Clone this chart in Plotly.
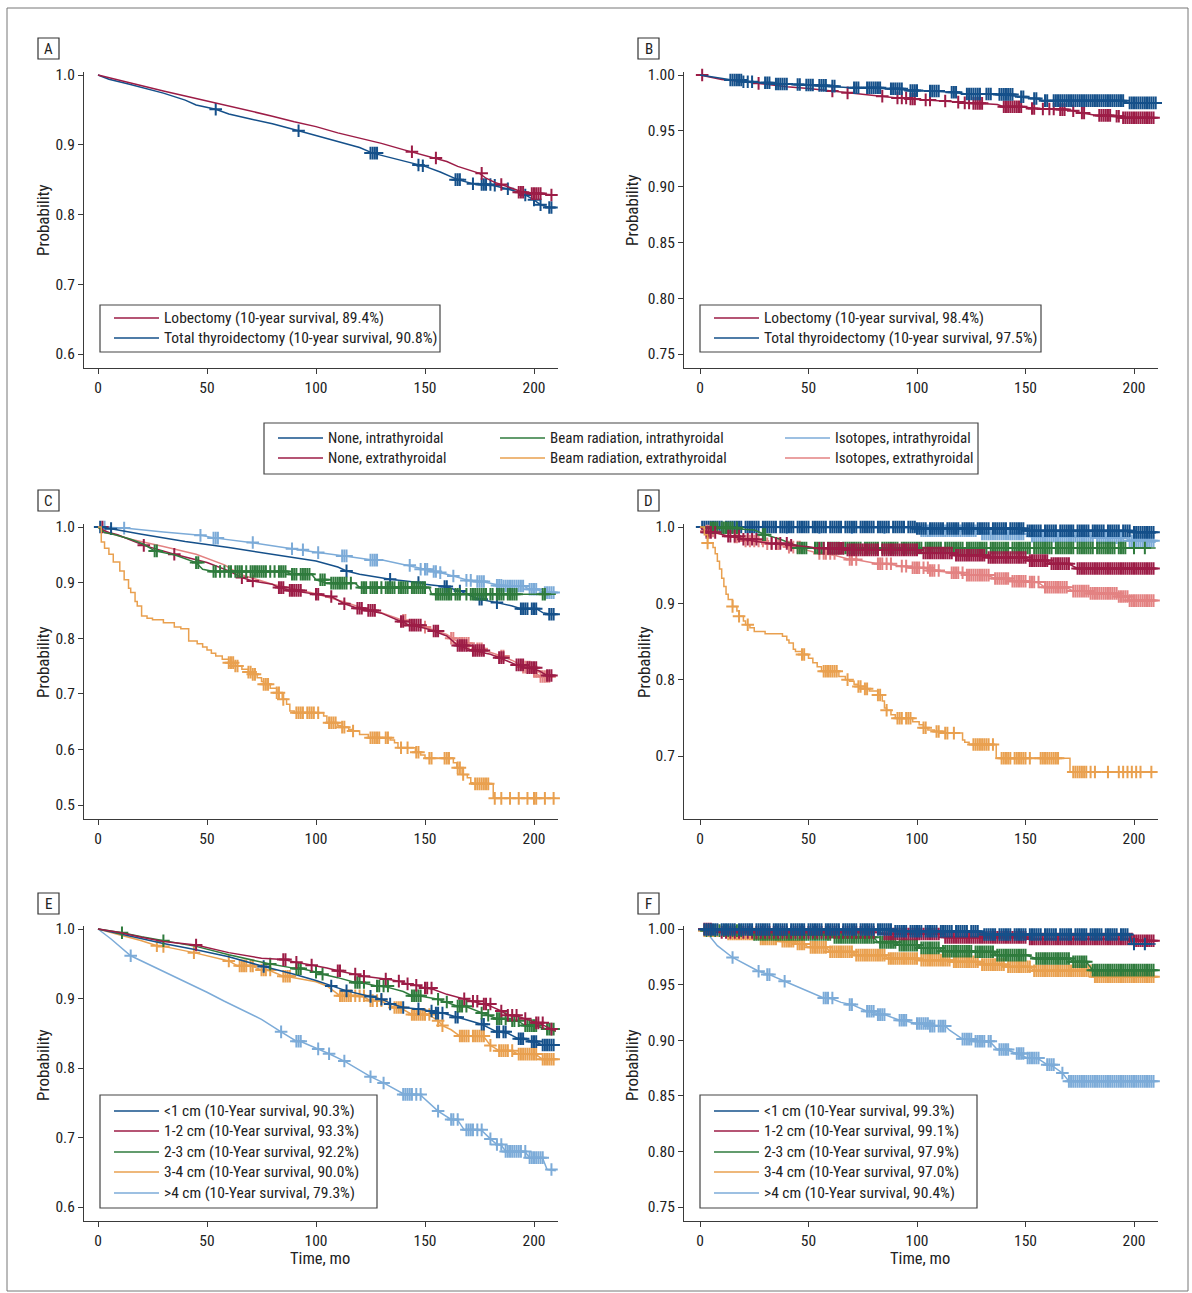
import plotly.graph_objects as go

W, H = 1192, 1293
FONT = "Liberation Sans Narrow, Arial Narrow, Roboto Condensed, Liberation Sans, Arial, sans-serif"

C_DBLUE = "#15508a"
C_RED = "#9c1c46"
C_GREEN = "#2f7b3d"
C_ORANGE = "#e9a04f"
C_LBLUE = "#7cabd8"
C_PINK = "#e38282"

X_TICKS = [0, 50, 100, 150, 200]

# ---------------- Panel A ----------------
A_Y_TICKS = [0.6, 0.7, 0.8, 0.9, 1.0]
A_NAMES = ["Lobectomy (10-year survival, 89.4%)", "Total thyroidectomy (10-year survival, 90.8%)"]
A_LOB_T = [0, 10, 20, 30, 40, 50, 60, 70, 80, 90, 100, 110, 120, 130, 140, 145, 150, 155, 160, 165, 170, 175, 178, 182, 186, 190, 194, 200, 210]
A_LOB_S = [1.0, 0.992, 0.984, 0.977, 0.970, 0.963, 0.956, 0.948, 0.941, 0.933, 0.926, 0.917, 0.910, 0.902, 0.893, 0.889, 0.885, 0.881, 0.876, 0.869, 0.864, 0.859, 0.852, 0.846, 0.842, 0.837, 0.833, 0.830, 0.828]
A_LOB_CENS = [(0.890, [144]), (0.881, [155]), (0.859, [176]), (0.843, [185]), (0.832, [193, 194, 195]),
              (0.830, [199, 200, 201, 202, 203]), (0.828, [208])]
A_TOT_T = [0, 5, 14, 22, 30, 40, 45, 54, 60, 70, 80, 92, 100, 110, 120, 126, 135, 140, 147, 150, 157, 165, 172, 176, 181, 186, 192, 196, 200, 203, 207, 210]
A_TOT_S = [1.0, 0.994, 0.987, 0.980, 0.974, 0.964, 0.957, 0.951, 0.944, 0.937, 0.930, 0.920, 0.913, 0.905, 0.896, 0.888, 0.881, 0.877, 0.871, 0.869, 0.861, 0.850, 0.844, 0.843, 0.842, 0.838, 0.833, 0.828, 0.821, 0.814, 0.810, 0.810]
A_TOT_CENS = [(0.951, [54]), (0.920, [92]), (0.888, [125, 126, 127, 128]), (0.871, [147]), (0.870, [149]),
              (0.850, [164, 165, 166]), (0.844, [172]), (0.843, [176, 177, 178, 180]), (0.842, [182]),
              (0.837, [188]), (0.828, [196]), (0.821, [200]), (0.814, [203]), (0.810, [207, 208])]

# ---------------- Panel B ----------------
B_Y_TICKS = [0.75, 0.80, 0.85, 0.90, 0.95, 1.00]
B_NAMES = ["Lobectomy (10-year survival, 98.4%)", "Total thyroidectomy (10-year survival, 97.5%)"]
B_LOB_T = [0, 10, 27, 40, 50, 61, 68, 84, 91, 97, 104, 113, 119, 124, 130, 137, 140, 150, 155, 163, 168, 172, 176, 183, 190, 195, 210]
B_LOB_S = [1.0, 0.996, 0.9925, 0.9895, 0.988, 0.9856, 0.984, 0.981, 0.9795, 0.9785, 0.9777, 0.9767, 0.9757, 0.975, 0.9746, 0.9735, 0.9716, 0.9712, 0.970, 0.9695, 0.969, 0.968, 0.966, 0.9638, 0.9632, 0.9617, 0.9617]
B_LOB_CENS = [(1.0, [1]), (0.9925, [27]), (0.9856, [61]), (0.984, [68]), (0.981, [84]), (0.9795, [91, 93, 95]),
              (0.9785, [97, 98, 99]), (0.9777, [104, 106]), (0.9767, [113]), (0.9757, [119]), (0.975, [122, 124]),
              (0.9746, [126, 127, 128, 129, 130]), (0.9716, [140, 141, 142, 143, 144, 145, 146, 147, 148]),
              (0.970, [153, 154]), (0.9695, [158, 161, 163]), (0.969, [166, 167, 168]), (0.968, [172]),
              (0.966, [176, 177]), (0.9638, [184, 185, 186, 187, 188, 189]), (0.963, [192, 193]),
              (0.9617, [195, 196, 197, 198, 199, 200, 201, 202, 203, 204, 205, 206, 207, 208, 209])]
B_TOT_T = [0, 14, 20, 30, 40, 45, 50, 55, 61, 70, 88, 97, 106, 116, 123, 138, 146, 150, 155, 158, 196, 197, 210]
B_TOT_S = [1.0, 0.9955, 0.994, 0.993, 0.992, 0.9915, 0.991, 0.9907, 0.990, 0.9886, 0.9877, 0.986, 0.9856, 0.9845, 0.983, 0.9826, 0.981, 0.9796, 0.979, 0.977, 0.977, 0.975, 0.975]
B_TOT_CENS = [(0.9955, [14, 15, 16, 17, 18, 19]), (0.994, [20, 22, 24]), (0.993, [30, 31, 32]),
              (0.992, [35, 36, 37, 38, 39, 40]), (0.9915, [45, 46]), (0.991, [49, 50, 51, 52]),
              (0.9907, [55, 56, 57, 58]), (0.990, [61, 62]),
              (0.9886, [71, 72, 73, 77, 78, 79, 80, 81, 82, 83]), (0.9877, [88, 89, 90, 91, 92, 93]),
              (0.986, [97, 98, 99, 100]), (0.9856, [106, 107, 108, 109, 110]), (0.9845, [116, 117, 118]),
              (0.983, [123, 124, 125, 126, 127, 128, 129, 132, 133, 134]),
              (0.9826, [138, 139, 140, 141, 142, 143, 144]), (0.9805, [148, 149]), (0.979, [154, 155]),
              (0.977, [159, 160, 163, 164, 165, 166, 167, 168, 169, 170, 171, 172, 173, 174, 175, 176, 177, 178,
                       179, 180, 181, 182, 183, 184, 185, 186, 187, 188, 189, 190, 191, 192, 193, 194, 195]),
              (0.975, [198, 199, 200, 201, 202, 203, 204, 205, 206, 207, 208, 209, 210])]

# ---------------- Panels C / D (shared legend) ----------------
CD_NAMES = ["None, intrathyroidal", "None, extrathyroidal", "Beam radiation, intrathyroidal",
            "Beam radiation, extrathyroidal", "Isotopes, intrathyroidal", "Isotopes, extrathyroidal"]
C_Y_TICKS = [0.5, 0.6, 0.7, 0.8, 0.9, 1.0]
D_Y_TICKS = [0.7, 0.8, 0.9, 1.0]

C_NI_T = [0, 6, 20, 40, 60, 80, 100, 110, 114, 120, 134, 147, 150, 159, 166, 170, 175, 183, 190, 194, 201, 204, 208, 210]
C_NI_S = [1.0, 0.997, 0.987, 0.974, 0.963, 0.951, 0.939, 0.928, 0.921, 0.915, 0.906, 0.900, 0.897, 0.893, 0.885, 0.878, 0.870, 0.864, 0.858, 0.853, 0.853, 0.846, 0.843, 0.843]
C_NI_CENS = [(1.0, [1]), (0.997, [6]), (0.921, [114]), (0.906, [134]), (0.900, [147]), (0.893, [159, 160]),
             (0.885, [166]), (0.870, [175, 176]), (0.864, [183]),
             (0.853, [194, 195, 196, 197, 199, 200, 201]), (0.843, [207, 208, 209])]

C_NE_T = [0, 2, 5, 9, 21, 35, 50, 60, 66, 71, 80, 83, 88, 100, 107, 113, 119, 124, 130, 139, 143, 150, 154, 160, 165, 172, 180, 184, 190, 192, 197, 202, 206, 210]
C_NE_S = [1.0, 0.995, 0.99, 0.986, 0.967, 0.951, 0.936, 0.921, 0.909, 0.903, 0.897, 0.891, 0.886, 0.879, 0.875, 0.862, 0.854, 0.850, 0.845, 0.830, 0.8235, 0.818, 0.813, 0.804, 0.787, 0.778, 0.771, 0.765, 0.756, 0.752, 0.747, 0.742, 0.733, 0.733]
C_NE_CENS = [(1.0, [2]), (0.967, [21]), (0.951, [35]), (0.909, [66]), (0.903, [71]), (0.891, [83, 84, 85]),
             (0.886, [88, 89, 90, 91, 92, 93]), (0.879, [100, 101]), (0.875, [107]), (0.862, [113]),
             (0.854, [119, 120, 121]), (0.850, [124, 125, 126, 127]), (0.830, [139, 140]),
             (0.8235, [143, 144, 145, 146, 147, 148]), (0.813, [154, 155, 156]),
             (0.787, [165, 166, 167, 168, 169]), (0.778, [172, 173, 174, 175, 176, 177]),
             (0.765, [184, 185, 186]), (0.752, [192, 193, 194, 195]), (0.747, [197, 198, 199, 200, 201]),
             (0.733, [206, 207, 208])]

C_BI_T = [0, 3, 7, 15, 21, 26, 35, 45, 48, 53, 87, 88, 98, 100, 105, 118, 120, 152, 153, 210]
C_BI_S = [1.0, 0.99, 0.987, 0.978, 0.969, 0.957, 0.950, 0.936, 0.924, 0.920, 0.920, 0.915, 0.915, 0.905, 0.899, 0.899, 0.891, 0.891, 0.879, 0.879]
C_BI_CENS = [(0.957, [26, 27]), (0.936, [45, 46]),
             (0.920, [53, 54, 56, 58, 60, 61, 63, 64, 65, 66, 68, 70, 71, 72, 73, 74, 75, 76, 77, 79, 81, 83, 84, 85, 86]),
             (0.915, [89, 90, 91, 93, 94, 95, 96, 97]), (0.905, [102, 103, 104]),
             (0.899, [107, 108, 109, 110, 111, 112, 113, 114, 116]),
             (0.891, [121, 122, 123, 125, 126, 127, 128, 130, 132, 133, 134, 135, 136, 138, 139, 140, 141, 142,
                      144, 145, 146, 147, 148, 149, 150]),
             (0.879, [155, 156, 157, 158, 159, 160, 161, 162, 164, 165, 166, 169, 171, 172, 173, 174, 175, 176,
                      177, 178, 180, 181, 183, 184, 185, 186, 188, 189, 190, 191, 192, 204, 205])]

C_BE_T = [0, 1.5, 3, 5, 7, 10, 12, 14, 15, 17, 18, 20, 22.5, 25, 30, 35, 38, 41.6, 45.5, 48, 50, 52, 54, 57, 60, 63, 66, 69, 71, 73, 75, 76, 79, 82, 84.5, 86.5, 88, 90, 103.5, 105, 110, 111.5, 115, 117, 120, 124, 134, 136, 137.6, 145.6, 148, 150, 152, 163, 164.6, 167, 169.4, 171, 172, 181.3, 210]
C_BE_S = [1.0, 0.973, 0.962, 0.951, 0.937, 0.921, 0.905, 0.89, 0.882, 0.866, 0.858, 0.840, 0.836, 0.833, 0.828, 0.820, 0.817, 0.795, 0.790, 0.784, 0.779, 0.773, 0.768, 0.762, 0.756, 0.750, 0.744, 0.739, 0.735, 0.729, 0.722, 0.717, 0.710, 0.702, 0.690, 0.681, 0.669, 0.666, 0.660, 0.648, 0.643, 0.640, 0.636, 0.633, 0.627, 0.621, 0.617, 0.612, 0.603, 0.595, 0.590, 0.585, 0.584, 0.576, 0.567, 0.555, 0.549, 0.540, 0.538, 0.512, 0.512]
C_BE_CENS = [(0.756, [60, 61, 62]), (0.750, [63, 64]), (0.739, [69, 70]), (0.735, [71, 72]),
             (0.717, [76, 77, 78]), (0.702, [82, 83]), (0.690, [85]),
             (0.666, [91, 92, 93, 94, 96, 97, 98, 99, 101]), (0.648, [106, 107, 108, 109]),
             (0.640, [112, 113]), (0.633, [117]), (0.621, [125, 126, 127, 128, 129, 132, 133]),
             (0.603, [139, 142]), (0.595, [146, 147]), (0.584, [152, 153, 159, 160, 161]),
             (0.567, [165, 166]), (0.555, [167.5]), (0.538, [173, 174, 175, 176, 177, 178, 179]),
             (0.512, [182, 185, 189, 193, 197, 200, 201, 205, 209])]

C_II_T = [0, 5, 12, 30, 47, 54, 70, 89, 94, 101, 113, 126, 131, 140, 150, 160, 170, 176, 182, 186, 195, 198, 201, 205, 210]
C_II_S = [1.0, 0.999, 0.998, 0.991, 0.985, 0.980, 0.972, 0.961, 0.9586, 0.954, 0.948, 0.9405, 0.940, 0.933, 0.924, 0.915, 0.904, 0.902, 0.897, 0.894, 0.894, 0.888, 0.888, 0.882, 0.880]
C_II_CENS = [(1.0, [3]), (0.998, [12]), (0.985, [47]), (0.980, [53, 54, 55]), (0.972, [71]), (0.961, [89]),
             (0.959, [94]), (0.954, [101]), (0.948, [112, 113, 114]), (0.9405, [125, 126, 127, 128]),
             (0.931, [143]), (0.924, [148, 150, 151]), (0.920, [154, 155]), (0.918, [157]), (0.912, [163]),
             (0.904, [169, 171]), (0.902, [174, 175, 176, 177]), (0.895, [183, 184, 185]),
             (0.894, [186, 187, 188, 189, 190, 191, 192, 193, 194, 195]), (0.888, [198, 199, 200, 201]),
             (0.882, [205, 206, 207, 208, 209])]

C_IE_T = [0, 3, 8, 15, 30, 45, 58, 65, 80, 100, 113, 120, 130, 140, 150, 160, 166, 175, 185, 190, 196, 200, 203, 210]
C_IE_S = [1.0, 0.99, 0.986, 0.978, 0.965, 0.951, 0.932, 0.915, 0.897, 0.880, 0.865, 0.856, 0.846, 0.832, 0.820, 0.807, 0.791, 0.781, 0.768, 0.760, 0.748, 0.740, 0.731, 0.730]
C_IE_CENS = [(0.832, [140, 141]), (0.820, [150]), (0.800, [162, 163]), (0.791, [166, 167, 168, 169, 170]),
             (0.781, [174, 175, 176]), (0.768, [185, 186]), (0.748, [195, 196, 197, 198]), (0.740, [200, 201]),
             (0.731, [203, 204, 205, 206, 207])]

D_NI_T = [0, 100, 101, 150, 151, 200, 210]
D_NI_S = [1.0, 1.0, 0.998, 0.997, 0.995, 0.994, 0.992]
D_NI_CENS = [(1.0, [1, 2, 3, 4, 5, 6, 7, 8, 9, 10, 12, 13, 14, 15, 16, 17, 18, 19, 21, 22, 23, 24, 25, 26, 27, 29,
                    30, 31, 32, 33, 34, 35, 37, 38, 39, 40, 41, 42, 43, 45, 46, 47, 48, 49, 50, 52, 53, 54, 55, 56,
                    57, 58, 60, 61, 62, 63, 64, 65, 67, 68, 69, 70, 71, 72, 74, 75, 76, 77, 78, 79, 80, 82, 83, 84,
                    85, 86, 87, 89, 90, 91, 92, 93, 94, 96, 97, 98, 99]),
             (0.998, [100, 101, 102, 103, 104, 106, 107, 108, 109, 110, 111, 112, 114, 115, 116, 117, 118, 119,
                      121, 122, 123, 124, 125, 126, 128, 129, 130, 131, 132, 133, 135, 136, 137, 138, 139, 140,
                      141, 143, 144, 145, 146, 147, 148, 149]),
             (0.995, [151, 152, 153, 154, 155, 156, 157, 159, 160, 161, 162, 163, 164, 166, 167, 168, 169, 170,
                      171, 172, 174, 175, 176, 177, 178, 179, 181, 182, 183, 184, 185, 186, 188, 189, 190, 191,
                      192, 193, 195, 196, 197, 198]),
             (0.993, [200, 201, 202, 203, 204, 205, 206, 207, 208, 209])]

D_NE_T = [0, 2, 8, 13, 18, 20, 26, 33, 41, 42, 50, 55, 66, 68, 100, 103, 116, 118, 131, 133, 150, 152, 160, 162, 170, 174, 210]
D_NE_S = [1.0, 0.995, 0.992, 0.988, 0.986, 0.984, 0.981, 0.9785, 0.977, 0.976, 0.974, 0.972, 0.971, 0.970, 0.9695, 0.966, 0.9655, 0.963, 0.9625, 0.960, 0.9595, 0.956, 0.9555, 0.952, 0.9515, 0.9457, 0.9457]
D_NE_CENS = [(0.993, [3, 4, 5, 7]), (0.988, [13, 14, 16, 18]), (0.984, [20, 22, 24, 26]),
             (0.9785, [33, 35, 37, 40]), (0.976, [42]), (0.972, [55, 57, 59, 60, 61, 62, 63, 64, 65, 66]),
             (0.970, [68, 69, 70, 71, 72, 73, 74, 75, 76, 77, 78, 79, 80, 81, 82, 84, 85, 86, 87, 88, 89, 90,
                      91, 92, 93, 94, 95, 96, 97, 98, 99, 100]),
             (0.966, [103, 104, 105, 106, 107, 108, 109, 110, 111, 112, 113, 114, 115, 116]),
             (0.963, [118, 119, 120, 121, 122, 123, 124, 125, 126, 127, 128, 129, 130, 131]),
             (0.960, [133, 134, 135, 136, 137, 138, 139, 140, 141, 142, 143, 144, 145, 146, 147, 148, 149, 150]),
             (0.956, [152, 153, 154, 155, 156, 157, 158, 159, 160]),
             (0.952, [162, 163, 164, 165, 166, 167, 168, 169, 170]),
             (0.9457, [174, 175, 176, 177, 178, 179, 180, 181, 182, 183, 184, 185, 186, 187, 188, 189, 190, 191,
                       192, 193, 194, 195, 196, 197, 198, 199, 200, 201, 202, 203, 204, 205, 206, 207, 208, 209])]

D_BI_T = [0, 10, 25, 30, 37, 44, 46, 210]
D_BI_S = [1.0, 0.999, 0.996, 0.990, 0.984, 0.976, 0.9725, 0.9725]
D_BI_CENS = [(0.999, [5, 6, 7, 8, 10, 11, 12, 13, 14, 15, 17]), (0.990, [29, 30]),
             (0.9725, [45, 46, 47, 48, 49, 53, 54, 55, 56, 57, 59, 60, 61, 62, 63, 64, 66, 67, 68, 69, 70, 71,
                       72, 73, 74, 76, 77, 78, 79, 80, 81, 82, 84, 85, 86, 87, 88, 89, 90, 91, 93, 94, 95, 96,
                       97, 98, 99, 100, 101, 102, 104, 105, 106, 107, 108, 109, 110, 111, 113, 114, 115, 116,
                       117, 118, 119, 120, 121, 123, 124, 125, 126, 127, 128, 129, 130, 131, 132, 134, 135, 136,
                       137, 138, 139, 140, 141, 142, 144, 145, 146, 147, 148, 149, 150, 151, 152, 154, 155, 156,
                       157, 158, 159, 160, 161, 162, 164, 165, 166, 167, 168, 169, 170, 171, 172, 174, 175, 176,
                       177, 178, 179, 180, 181, 183, 184, 185, 186, 187, 188, 189, 190, 191, 193, 194, 195, 196,
                       200, 205])]

D_BE_T = [0, 2, 3.5, 6, 7, 8, 9, 10, 11, 12, 13, 15, 17, 18, 20, 21, 23, 25, 30, 38, 40, 41, 43, 44, 47, 50, 52, 54, 56, 64, 67, 69, 71, 73, 76, 78, 82, 84, 85, 86, 88, 90, 98, 101, 103, 105, 108, 112, 121, 122, 124, 136.5, 170.5, 210]
D_BE_S = [1.0, 0.99, 0.979, 0.973, 0.965, 0.955, 0.945, 0.933, 0.922, 0.912, 0.905, 0.896, 0.890, 0.883, 0.877, 0.872, 0.868, 0.863, 0.860, 0.857, 0.852, 0.848, 0.840, 0.837, 0.833, 0.828, 0.822, 0.817, 0.811, 0.804, 0.800, 0.798, 0.794, 0.791, 0.788, 0.785, 0.780, 0.772, 0.763, 0.760, 0.754, 0.7495, 0.745, 0.741, 0.737, 0.734, 0.732, 0.730, 0.721, 0.718, 0.715, 0.697, 0.679, 0.679]
D_BE_CENS = [(0.979, [3.5]), (0.896, [15]), (0.883, [18]), (0.872, [22]), (0.833, [47, 48]),
             (0.811, [57, 58, 59, 60, 61, 62, 63]), (0.800, [68]), (0.791, [73, 74]), (0.788, [76, 77]),
             (0.780, [82, 83]), (0.760, [86]), (0.7495, [91, 92, 93, 95, 96, 97]), (0.737, [103, 104]),
             (0.732, [109, 110]), (0.730, [113, 114, 117]),
             (0.715, [126, 127, 128, 129, 130, 131, 132, 133, 135]),
             (0.697, [139, 140, 141, 142, 143, 145, 146, 147, 148, 149, 150, 152, 157, 158, 159, 160, 161, 162,
                      163, 164, 165]),
             (0.679, [172, 173, 174, 175, 176, 177, 178, 180, 182, 188, 193, 195, 197, 199, 201, 203, 208])]

D_II_T = [0, 80, 100, 101, 128, 130, 150, 152, 182, 183, 196, 198, 210]
D_II_S = [1.0, 0.999, 0.998, 0.995, 0.995, 0.991, 0.991, 0.988, 0.988, 0.986, 0.986, 0.982, 0.980]
D_II_CENS = [(0.999, [40, 55, 70, 85]),
             (0.995, [102, 103, 104, 105, 106, 107, 108, 109, 110, 111, 112, 113, 114, 115, 116, 117, 118, 119,
                      120, 121, 122, 123, 124, 125, 126, 127]),
             (0.991, [130, 131, 132, 133, 134, 135, 136, 137, 138, 139, 140, 141, 142, 143, 144, 145, 146, 147,
                      148, 149]),
             (0.988, [153, 154, 155, 156, 157, 158, 159, 160, 161, 162, 163, 164, 165, 166, 167, 168, 169, 170,
                      171, 172, 173, 174, 175, 176, 177, 178, 179, 180, 181]),
             (0.986, [183, 184, 185, 186, 187, 188, 189, 190, 191, 192, 193, 194, 195]),
             (0.982, [198, 199, 200, 201, 202, 203, 204, 205, 206, 207, 208, 209])]

D_IE_T = [0, 3, 10, 16, 21, 29, 31, 36, 41, 46, 55, 62, 69, 72, 82, 88, 93, 95, 98, 105, 106, 110, 116, 121, 123, 133, 136, 142, 144, 150, 152, 156, 159, 169, 172, 179, 180, 192, 193, 197, 198, 210]
D_IE_S = [1.0, 0.9947, 0.990, 0.987, 0.9816, 0.980, 0.978, 0.977, 0.9737, 0.972, 0.9654, 0.963, 0.9575, 0.957, 0.9518, 0.951, 0.9487, 0.948, 0.9466, 0.9455, 0.943, 0.942, 0.940, 0.939, 0.937, 0.936, 0.9325, 0.932, 0.929, 0.9285, 0.928, 0.927, 0.921, 0.9205, 0.916, 0.9155, 0.913, 0.9125, 0.909, 0.908, 0.9036, 0.9036]
D_IE_CENS = [(0.9947, [3, 4, 6]), (0.987, [16, 17]), (0.9816, [21, 23, 25, 27, 29]), (0.978, [31, 33, 35, 36]),
             (0.9737, [41, 43, 45, 46]), (0.9654, [55, 57, 58, 60, 62]), (0.9575, [69, 70, 72]),
             (0.9518, [82, 83, 84, 86, 88]), (0.9487, [93, 95]), (0.9466, [98, 99, 100, 101, 103, 105]),
             (0.943, [106, 107, 108, 110]), (0.940, [116, 117, 118, 119, 121]),
             (0.937, [123, 124, 125, 126, 127, 128, 129, 130, 131, 132, 133]),
             (0.9325, [136, 137, 138, 139, 140, 141, 142]), (0.929, [144, 145, 146, 147, 148, 149, 150]),
             (0.928, [152, 153, 154, 156]),
             (0.921, [159, 160, 161, 162, 163, 164, 165, 166, 167, 168, 169]),
             (0.916, [172, 173, 174, 175, 176, 177, 178, 179]),
             (0.913, [180, 181, 182, 183, 184, 185, 186, 187, 188, 189, 190, 191, 192]),
             (0.909, [193, 194, 195, 196, 197]),
             (0.9036, [198, 199, 200, 201, 202, 203, 204, 205, 206, 207, 208, 209])]

# ---------------- Panel E ----------------
E_Y_TICKS = [0.6, 0.7, 0.8, 0.9, 1.0]
E_NAMES = ["<1 cm (10-Year survival, 90.3%)", "1-2 cm (10-Year survival, 93.3%)", "2-3 cm (10-Year survival, 92.2%)",
           "3-4 cm (10-Year survival, 90.0%)", ">4 cm (10-Year survival, 79.3%)"]
E_1_T = [0, 10, 20, 30, 45, 60, 76, 90, 100, 107, 114, 125, 130, 135, 140, 147, 153, 158, 165, 170, 176, 183, 188, 193, 196, 200, 204, 210]
E_1_S = [1.0, 0.993, 0.986, 0.979, 0.970, 0.960, 0.946, 0.935, 0.926, 0.918, 0.911, 0.903, 0.899, 0.892, 0.887, 0.885, 0.882, 0.879, 0.873, 0.868, 0.863, 0.852, 0.850, 0.842, 0.841, 0.838, 0.833, 0.833]
E_1_CENS = [(0.946, [76]), (0.918, [107]), (0.911, [114]), (0.903, [125]), (0.899, [130]), (0.892, [134]),
            (0.887, [140]), (0.885, [147]), (0.882, [153]), (0.879, [155, 156, 158]), (0.873, [164, 165]),
            (0.863, [176, 177]), (0.852, [183, 184, 186, 187]), (0.842, [193, 194, 195]),
            (0.838, [199, 200, 201]), (0.833, [204, 205, 206, 207, 208, 209])]
E_2_T = [0, 10, 20, 30, 45, 60, 75, 85, 91, 98, 105, 110, 118, 122, 132, 138, 142, 146, 150, 154, 160, 168, 172, 177, 180, 185, 188, 193, 196, 201, 204, 208, 210]
E_2_S = [1.0, 0.995, 0.988, 0.982, 0.977, 0.966, 0.958, 0.956, 0.952, 0.948, 0.944, 0.940, 0.935, 0.932, 0.928, 0.925, 0.921, 0.919, 0.915, 0.913, 0.906, 0.8995, 0.896, 0.892, 0.889, 0.882, 0.876, 0.874, 0.871, 0.865, 0.862, 0.856, 0.853]
E_2_CENS = [(0.977, [45]), (0.956, [85, 86]), (0.952, [91]), (0.948, [98]), (0.940, [110, 111]), (0.935, [118]),
            (0.932, [122]), (0.928, [132]), (0.925, [138]), (0.921, [142]), (0.919, [146]),
            (0.915, [150, 151, 153]), (0.8995, [168]), (0.896, [172, 174]), (0.892, [177, 178, 180]),
            (0.882, [185]), (0.876, [188, 190, 192]), (0.871, [196]), (0.865, [201, 202, 204]), (0.856, [208])]
E_3_T = [0, 11, 20, 30, 45, 60, 79, 91, 93, 100, 103, 110, 118, 122, 128, 133, 140, 144, 149, 156, 160, 165, 169, 176, 179, 183, 187, 190, 193, 196, 201, 206, 210]
E_3_S = [1.0, 0.9947, 0.989, 0.983, 0.975, 0.963, 0.9495, 0.943, 0.943, 0.938, 0.935, 0.930, 0.923, 0.922, 0.918, 0.916, 0.910, 0.904, 0.903, 0.899, 0.895, 0.889, 0.888, 0.879, 0.876, 0.871, 0.870, 0.868, 0.867, 0.861, 0.860, 0.856, 0.853]
E_3_CENS = [(0.9947, [11]), (0.983, [30]), (0.9495, [79]), (0.943, [91, 92, 93]), (0.938, [100]), (0.935, [103]),
            (0.923, [118, 119, 120, 122]), (0.918, [128, 129, 131, 133]), (0.904, [144, 145, 146, 147, 148]),
            (0.899, [156]), (0.895, [160]), (0.889, [165, 166, 167, 169]), (0.879, [176]), (0.876, [179]),
            (0.871, [183, 184, 185, 187]), (0.868, [190, 191, 193]), (0.861, [196, 197, 198, 199, 200, 201]),
            (0.856, [206, 207, 208, 209])]
E_4_T = [0, 10, 20, 27, 30, 44, 60, 64, 71, 75, 79, 85, 88, 100, 105, 111, 122, 125, 130, 136, 139, 144, 152, 156, 158, 162, 166, 177, 180, 184, 190, 193, 201, 204, 210]
E_4_S = [1.0, 0.992, 0.983, 0.976, 0.975, 0.966, 0.954, 0.947, 0.946, 0.941, 0.940, 0.932, 0.931, 0.924, 0.918, 0.904, 0.902, 0.897, 0.896, 0.887, 0.886, 0.877, 0.876, 0.868, 0.861, 0.855, 0.846, 0.845, 0.8325, 0.825, 0.824, 0.820, 0.819, 0.8125, 0.8125]
E_4_CENS = [(0.976, [27]), (0.975, [30]), (0.966, [44]), (0.954, [60]), (0.947, [65, 66, 67, 68, 70, 71]),
            (0.941, [75, 76, 77, 79]), (0.932, [85, 86, 87, 88]),
            (0.904, [111, 112, 113, 114, 115, 116, 118, 120, 122]), (0.897, [125, 126, 128, 130]),
            (0.887, [136, 137, 138, 139]), (0.877, [144, 145, 146, 147, 148, 149, 150, 152]), (0.868, [156]),
            (0.861, [158]), (0.846, [166, 167, 168, 169, 170, 172, 173, 174, 175, 176, 177]), (0.8325, [180]),
            (0.825, [184, 185, 186, 187, 188, 190]), (0.820, [193, 194, 195, 196, 197, 198, 199, 200, 201]),
            (0.8125, [204, 205, 206, 207, 208, 209])]
E_5_T = [0, 6, 15, 22, 30, 40, 50, 58, 65, 75, 84, 91, 93, 101, 106, 113, 125, 131, 140, 148, 156, 162, 165, 168, 176, 180, 183, 185, 187, 196, 198, 204, 206, 210]
E_5_S = [1.0, 0.9856, 0.9615, 0.951, 0.940, 0.925, 0.909, 0.896, 0.885, 0.870, 0.852, 0.8385, 0.838, 0.8275, 0.8205, 0.810, 0.7875, 0.7785, 0.763, 0.761, 0.738, 0.726, 0.725, 0.711, 0.710, 0.698, 0.690, 0.689, 0.680, 0.679, 0.671, 0.670, 0.654, 0.652]
E_5_CENS = [(0.9615, [15]), (0.852, [84]), (0.8385, [91, 92, 93]), (0.8275, [101]), (0.8205, [106]), (0.810, [113]),
            (0.7875, [125]), (0.7785, [131]), (0.762, [140, 141, 142, 143, 144, 146, 148]), (0.738, [156]),
            (0.726, [162, 163, 165]), (0.711, [169, 170, 171, 172, 174, 176]), (0.698, [180]),
            (0.690, [183, 185]), (0.680, [187, 188, 189, 190, 191, 192, 193, 194, 196]),
            (0.671, [198, 199, 200, 201, 202, 203, 204]), (0.654, [208])]

# ---------------- Panel F ----------------
F_Y_TICKS = [0.75, 0.80, 0.85, 0.90, 0.95, 1.00]
F_NAMES = ["<1 cm (10-Year survival, 99.3%)", "1-2 cm (10-Year survival, 99.1%)", "2-3 cm (10-Year survival, 97.9%)",
           "3-4 cm (10-Year survival, 97.0%)", ">4 cm (10-Year survival, 90.4%)"]
F_1_T = [0, 40, 88, 90, 130, 135, 198, 199, 210]
F_1_S = [1.0, 0.9995, 0.999, 0.998, 0.997, 0.995, 0.995, 0.9865, 0.9865]
F_1_CENS = [(0.9995, [2, 3, 4, 5, 6, 7, 8, 10, 11, 12, 13, 14, 15, 16, 18, 19, 20, 21, 22, 23, 24, 26, 27, 28, 29,
                      30, 31, 32, 34, 35, 36, 37, 38, 39, 40, 42, 43, 44, 45, 46, 47, 48, 50, 51, 52, 53, 54, 55,
                      56, 58, 59, 60, 61, 62, 63, 64, 66, 67, 68, 69, 70, 71, 72, 74, 75, 76, 77, 78, 79, 80, 82,
                      83, 84, 85, 86, 87, 88]),
            (0.998, [90, 91, 92, 93, 94, 95, 97, 98, 99, 100, 101, 102, 104, 105, 106, 107, 108, 109, 111, 112,
                     113, 114, 115, 116, 118, 119, 120, 121, 122, 123, 125, 126, 127, 128]),
            (0.995, [131, 132, 133, 134, 135, 136, 138, 139, 140, 141, 142, 143, 145, 146, 147, 148, 149, 150,
                     152, 153, 154, 155, 156, 157, 159, 160, 161, 162, 163, 164, 166, 167, 168, 169, 170, 171,
                     173, 174, 175, 176, 177, 178, 180, 181, 182, 183, 184, 185, 187, 188, 189, 190, 191, 192,
                     194, 195, 196, 197]),
            (0.9865, [200, 205])]
F_2_T = [0, 10, 80, 90, 110, 112, 150, 152, 200, 202, 210]
F_2_S = [1.0, 0.999, 0.997, 0.9955, 0.9955, 0.9925, 0.9925, 0.991, 0.991, 0.9895, 0.9895]
F_2_CENS = [(1.0, [2, 3, 4, 5]),
            (0.997, [10, 12, 14, 16, 18, 20, 22, 24, 26, 28, 30, 32, 34, 36, 38, 40, 42, 44, 46, 48, 50, 52, 54,
                     56, 58, 60, 62, 64, 66, 68, 70, 72, 74, 76, 78, 80]),
            (0.9955, [85, 86, 87, 88, 89, 90, 91, 92, 93, 94, 95, 96, 97, 98, 99, 100, 101, 102, 103, 104, 105,
                      106, 107, 108, 109, 110]),
            (0.9925, [113, 114, 115, 116, 117, 118, 119, 120, 121, 122, 123, 124, 125, 126, 127, 128, 129, 130,
                      131, 132, 133, 134, 135, 136, 137, 138, 139, 140, 141, 142, 143, 144, 145, 146, 147, 148,
                      149, 150]),
            (0.991, [152, 153, 154, 155, 156, 157, 158, 159, 160, 161, 162, 163, 164, 165, 166, 167, 168, 169,
                     170, 171, 172, 173, 174, 175, 176, 177, 178, 179, 180, 181, 182, 183, 184, 185, 186, 187,
                     188, 189, 190, 191, 192, 193, 194, 195, 196, 197, 198, 199]),
            (0.9895, [200, 201, 202, 203, 204, 205, 206, 207, 208, 209])]
F_3_T = [0, 5, 20, 25, 60, 62, 80, 82, 90, 92, 100, 102, 110, 112, 125, 127, 135, 137, 150, 155, 170, 172, 178, 181, 210]
F_3_S = [1.0, 0.9985, 0.9985, 0.995, 0.995, 0.9925, 0.9925, 0.988, 0.988, 0.9855, 0.9855, 0.983, 0.983, 0.980, 0.980, 0.9795, 0.9795, 0.9765, 0.9765, 0.9735, 0.9735, 0.9705, 0.9705, 0.963, 0.963]
F_3_CENS = [(0.9985, [3, 5, 7, 9, 11, 13, 15, 17, 19]),
            (0.995, [25, 26, 27, 28, 29, 30, 31, 32, 33, 34, 35, 36, 37, 38, 39, 40, 41, 42, 43, 44, 45, 46, 47,
                     48, 49, 50, 51, 52, 53, 54, 55, 56, 57, 58, 59, 60]),
            (0.9925, [62, 63, 64, 65, 66, 67, 68, 69, 70, 71, 72, 73, 74, 75, 76, 77, 78, 79, 80]),
            (0.988, [83, 84, 85, 86, 87, 88, 89, 90]),
            (0.9855, [92, 93, 94, 95, 96, 97, 98, 99, 100]),
            (0.983, [102, 103, 104, 105, 106, 107, 108, 109, 110]),
            (0.980, [112, 113, 114, 115, 116, 117, 118, 119, 120, 121, 122, 123, 124, 125]),
            (0.9795, [127, 128, 129, 130, 131, 132, 133, 134, 135]),
            (0.9765, [137, 138, 139, 140, 141, 142, 143, 144, 145, 146, 147, 148, 149, 150]),
            (0.9735, [155, 156, 157, 158, 159, 160, 161, 162, 163, 164, 165, 166, 167, 168, 169, 170]),
            (0.9705, [172, 173, 174, 175, 176, 177, 178]),
            (0.963, [181, 182, 183, 184, 185, 186, 187, 188, 189, 190, 191, 192, 193, 194, 195, 196, 197, 198,
                     199, 200, 201, 202, 203, 204, 205, 206, 207, 208, 209])]
F_4_T = [0, 10, 12, 25, 27, 35, 37, 43, 45, 48, 50, 58, 60, 70, 72, 85, 87, 100, 102, 115, 117, 128, 130, 140, 142, 152, 154, 180, 182, 210]
F_4_S = [1.0, 0.9985, 0.9955, 0.9955, 0.991, 0.991, 0.989, 0.989, 0.9865, 0.9865, 0.9835, 0.9835, 0.9795, 0.9795, 0.9765, 0.9765, 0.9735, 0.9735, 0.972, 0.972, 0.9705, 0.9705, 0.968, 0.968, 0.966, 0.966, 0.9625, 0.9625, 0.957, 0.957]
F_4_CENS = [(0.9985, [2, 4, 6, 8]),
            (0.9955, [13, 14, 15, 16, 17, 18, 19, 20, 21, 22, 23, 24, 25]),
            (0.991, [28, 29, 30, 31, 32, 33, 34, 35]), (0.989, [38, 39, 40, 41, 42, 43]),
            (0.9865, [45, 46, 47, 48]), (0.9835, [51, 52, 53, 54, 55, 56, 57, 58]),
            (0.9795, [60, 61, 62, 63, 64, 65, 66, 67, 68, 69, 70]),
            (0.9765, [72, 73, 74, 75, 76, 77, 78, 79, 80, 81, 82, 83, 84, 85]),
            (0.9735, [87, 88, 89, 90, 91, 92, 93, 94, 95, 96, 97, 98, 99, 100]),
            (0.972, [102, 103, 104, 105, 106, 107, 108, 109, 110, 111, 112, 113, 114, 115]),
            (0.9705, [117, 118, 119, 120, 121, 122, 123, 124, 125, 126, 127, 128]),
            (0.968, [130, 131, 132, 133, 134, 135, 136, 137, 138, 139, 140]),
            (0.966, [142, 143, 144, 145, 146, 147, 148, 149, 150, 151, 152]),
            (0.9625, [154, 155, 156, 157, 158, 159, 160, 161, 162, 163, 164, 165, 166, 167, 168, 169, 170, 171,
                      172, 173, 174, 175, 176, 177, 178, 179, 180]),
            (0.957, [182, 183, 184, 185, 186, 187, 188, 189, 190, 191, 192, 193, 194, 195, 196, 197, 198, 199,
                     200, 201, 202, 203, 204, 205, 206, 207, 208, 209])]
F_5_T = [0, 3, 8, 15, 27, 32, 39, 50, 57, 61, 65, 70, 77, 85, 92, 95, 100, 105, 113, 115, 121, 134, 137, 142, 146, 151, 156, 160, 163, 167, 170, 210]
F_5_S = [1.0, 0.997, 0.985, 0.9744, 0.962, 0.959, 0.953, 0.944, 0.938, 0.937, 0.934, 0.932, 0.926, 0.923, 0.918, 0.917, 0.915, 0.914, 0.9127, 0.909, 0.901, 0.898, 0.8916, 0.891, 0.888, 0.884, 0.883, 0.878, 0.876, 0.8705, 0.863, 0.863]
F_5_CENS = [(0.9744, [15]), (0.962, [27]), (0.959, [31, 32]), (0.953, [39]), (0.938, [57, 58, 59, 61]),
            (0.932, [69, 70]), (0.926, [77, 78, 79, 80]), (0.923, [82, 83, 84, 85]), (0.918, [92, 93, 94, 95]),
            (0.915, [100, 101, 102, 103, 104, 105]), (0.9127, [106, 107, 108, 110, 111, 112, 113]),
            (0.901, [121, 122, 123, 124, 125]), (0.899, [127, 128, 129, 130, 131, 133, 134]),
            (0.8916, [138, 139, 140, 141, 142]), (0.888, [146, 147, 148, 149]),
            (0.884, [151, 152, 153, 154, 155, 156]), (0.878, [160, 161, 162, 163]), (0.8705, [167]),
            (0.863, [170, 171, 172, 173, 174, 175, 176, 177, 178, 179, 180, 181, 182, 183, 184, 185, 186, 187,
                     188, 189, 190, 191, 192, 193, 194, 195, 196, 197, 198, 199, 200, 201, 202, 203, 204, 205,
                     206, 207, 208, 209])]

LABELS = ["A", "B", "C", "D", "E", "F"]


# ================= drawing =================
def px(x):
    return x / W


def py(y):
    return 1 - y / H


def lin(v0, p0, v1, p1, p):
    return v0 + (p - p0) * (v1 - v0) / (p1 - p0)


fig = go.Figure()

LEFT_X = dict(p0=98, p200=534, dom=(84, 558))
RIGHT_X = dict(p0=700, p200=1134, dom=(684, 1158))
PANELS = {
    "A": dict(n=1, xs=LEFT_X, ytop=(1.0, 75), ybot=(0.6, 354), dom=(72, 368), ticks=A_Y_TICKS, fmt=".1f"),
    "B": dict(n=2, xs=RIGHT_X, ytop=(1.0, 75), ybot=(0.75, 354), dom=(72, 368), ticks=B_Y_TICKS, fmt=".2f"),
    "C": dict(n=3, xs=LEFT_X, ytop=(1.0, 527), ybot=(0.5, 805), dom=(524, 819), ticks=C_Y_TICKS, fmt=".1f"),
    "D": dict(n=4, xs=RIGHT_X, ytop=(1.0, 527), ybot=(0.7, 756), dom=(524, 819), ticks=D_Y_TICKS, fmt=".1f"),
    "E": dict(n=5, xs=LEFT_X, ytop=(1.0, 929), ybot=(0.6, 1207), dom=(926, 1221), ticks=E_Y_TICKS, fmt=".1f"),
    "F": dict(n=6, xs=RIGHT_X, ytop=(1.0, 929), ybot=(0.75, 1207), dom=(926, 1221), ticks=F_Y_TICKS, fmt=".2f"),
}

axis_common = dict(showgrid=False, zeroline=False, showline=True, linecolor="#3a3a3a", linewidth=1.2,
                   ticks="outside", ticklen=5, tickwidth=1.2, tickcolor="#3a3a3a", automargin=False,
                   tickfont=dict(family=FONT, size=15.5, color="#222"), fixedrange=True)

layout_axes = {}
for key, p in PANELS.items():
    n = p["n"]
    xs = p["xs"]
    xr = [lin(0, xs["p0"], 200, xs["p200"], xs["dom"][0]), lin(0, xs["p0"], 200, xs["p200"], xs["dom"][1])]
    (v1, p1), (v0, p0) = p["ytop"], p["ybot"]
    yr = [lin(v0, p0, v1, p1, p["dom"][1]), lin(v0, p0, v1, p1, p["dom"][0])]
    xname = "xaxis" if n == 1 else f"xaxis{n}"
    yname = "yaxis" if n == 1 else f"yaxis{n}"
    layout_axes[xname] = dict(axis_common, domain=[px(xs["dom"][0]), px(xs["dom"][1])], range=xr,
                              tickvals=X_TICKS, anchor="y" if n == 1 else f"y{n}")
    layout_axes[yname] = dict(axis_common, domain=[py(p["dom"][1]), py(p["dom"][0])], range=yr,
                              tickvals=p["ticks"], tickformat=p["fmt"], anchor="x" if n == 1 else f"x{n}")
fig.update_layout(**layout_axes)


def add_series(panel, name, t, s, cens, color, shape="linear"):
    n = PANELS[panel]["n"]
    xa = "x" if n == 1 else f"x{n}"
    ya = "y" if n == 1 else f"y{n}"
    fig.add_trace(go.Scatter(x=t, y=s, mode="lines", name=name, showlegend=False, hoverinfo="skip",
                             line=dict(color=color, width=1.5, shape=shape), xaxis=xa, yaxis=ya))
    cx, cy = [], []
    for level, times in cens:
        for tt in times:
            cx.append(tt)
            cy.append(level)
    fig.add_trace(go.Scatter(x=cx, y=cy, mode="markers", name=name + " (censored)", showlegend=False,
                             hoverinfo="skip", cliponaxis=False, xaxis=xa, yaxis=ya,
                             marker=dict(symbol="cross-thin", size=9, color=color,
                                         line=dict(width=2, color=color))))


add_series("A", A_NAMES[1], A_TOT_T, A_TOT_S, A_TOT_CENS, C_DBLUE)
add_series("A", A_NAMES[0], A_LOB_T, A_LOB_S, A_LOB_CENS, C_RED)
add_series("B", B_NAMES[0], B_LOB_T, B_LOB_S, B_LOB_CENS, C_RED)
add_series("B", B_NAMES[1], B_TOT_T, B_TOT_S, B_TOT_CENS, C_DBLUE)
add_series("C", CD_NAMES[4], C_II_T, C_II_S, C_II_CENS, C_LBLUE)
add_series("C", CD_NAMES[5], C_IE_T, C_IE_S, C_IE_CENS, C_PINK)
add_series("C", CD_NAMES[1], C_NE_T, C_NE_S, C_NE_CENS, C_RED)
add_series("C", CD_NAMES[0], C_NI_T, C_NI_S, C_NI_CENS, C_DBLUE)
add_series("C", CD_NAMES[2], C_BI_T, C_BI_S, C_BI_CENS, C_GREEN)
add_series("C", CD_NAMES[3], C_BE_T, C_BE_S, C_BE_CENS, C_ORANGE, shape="hv")
add_series("D", CD_NAMES[4], D_II_T, D_II_S, D_II_CENS, C_LBLUE)
add_series("D", CD_NAMES[0], D_NI_T, D_NI_S, D_NI_CENS, C_DBLUE)
add_series("D", CD_NAMES[5], D_IE_T, D_IE_S, D_IE_CENS, C_PINK)
add_series("D", CD_NAMES[2], D_BI_T, D_BI_S, D_BI_CENS, C_GREEN)
add_series("D", CD_NAMES[1], D_NE_T, D_NE_S, D_NE_CENS, C_RED)
add_series("D", CD_NAMES[3], D_BE_T, D_BE_S, D_BE_CENS, C_ORANGE, shape="hv")
add_series("E", E_NAMES[4], E_5_T, E_5_S, E_5_CENS, C_LBLUE)
add_series("E", E_NAMES[3], E_4_T, E_4_S, E_4_CENS, C_ORANGE)
add_series("E", E_NAMES[0], E_1_T, E_1_S, E_1_CENS, C_DBLUE)
add_series("E", E_NAMES[2], E_3_T, E_3_S, E_3_CENS, C_GREEN)
add_series("E", E_NAMES[1], E_2_T, E_2_S, E_2_CENS, C_RED)
add_series("F", F_NAMES[4], F_5_T, F_5_S, F_5_CENS, C_LBLUE)
add_series("F", F_NAMES[3], F_4_T, F_4_S, F_4_CENS, C_ORANGE)
add_series("F", F_NAMES[2], F_3_T, F_3_S, F_3_CENS, C_GREEN)
add_series("F", F_NAMES[1], F_2_T, F_2_S, F_2_CENS, C_RED)
add_series("F", F_NAMES[0], F_1_T, F_1_S, F_1_CENS, C_DBLUE)

shapes = []
annotations = []


def box(x0, y0, x1, y1, color="#444", width=1.2):
    shapes.append(dict(type="rect", xref="paper", yref="paper", x0=px(x0), x1=px(x1), y0=py(y1), y1=py(y0),
                       line=dict(color=color, width=width), fillcolor="rgba(0,0,0,0)", layer="above"))


def legend_entry(x_line, y, color, text, size=15.5):
    shapes.append(dict(type="line", xref="paper", yref="paper", x0=px(x_line), x1=px(x_line + 45),
                       y0=py(y), y1=py(y), line=dict(color=color, width=1.5), layer="above"))
    annotations.append(dict(xref="paper", yref="paper", x=px(x_line + 48), y=py(y), text=text, showarrow=False,
                            xanchor="left", yanchor="middle",
                            font=dict(family=FONT, size=size, color="#222")))


def text_at(x, y, text, angle=0, size=15):
    annotations.append(dict(xref="paper", yref="paper", x=px(x), y=py(y), text=text, showarrow=False,
                            xanchor="center", yanchor="middle", textangle=angle,
                            font=dict(family=FONT, size=size, color="#222")))


box(7, 8, 1188, 1291, color="#777", width=1)

LABEL_POS = [(38, 38), (638, 38), (38, 490), (638, 490), (38, 893), (638, 893)]
for lab, (lx, ly) in zip(LABELS, LABEL_POS):
    box(lx, ly, lx + 21, ly + 21, color="#333", width=1.2)
    text_at(lx + 10.5, ly + 11, lab, size=15)

for (yx, yy) in [(43, 220), (632, 210), (43, 662), (644, 662), (43, 1065), (632, 1065)]:
    text_at(yx, yy, "Probability", angle=-90, size=17)
text_at(320, 1258, "Time, mo", size=16.5)
text_at(920, 1258, "Time, mo", size=16.5)

box(100, 305, 440, 352)
legend_entry(114, 318, C_RED, A_NAMES[0])
legend_entry(114, 338, C_DBLUE, A_NAMES[1])
box(700, 305, 1041, 352)
legend_entry(714, 318, C_RED, B_NAMES[0])
legend_entry(714, 338, C_DBLUE, B_NAMES[1])
box(264, 423, 978, 474)
CD_COLORS = [C_DBLUE, C_RED, C_GREEN, C_ORANGE, C_LBLUE, C_PINK]
CD_POS = [(278, 438), (278, 458), (500, 438), (500, 458), (785, 438), (785, 458)]
for nm, col, (lx, ly) in zip(CD_NAMES, CD_COLORS, CD_POS):
    legend_entry(lx, ly, col, nm, size=15)
EF_COLORS = [C_DBLUE, C_RED, C_GREEN, C_ORANGE, C_LBLUE]
EF_ROWS = [1111, 1131, 1152, 1172, 1193]
box(100, 1095, 377, 1208)
for nm, col, ry in zip(E_NAMES, EF_COLORS, EF_ROWS):
    legend_entry(114, ry, col, nm)
box(700, 1095, 977, 1208)
for nm, col, ry in zip(F_NAMES, EF_COLORS, EF_ROWS):
    legend_entry(714, ry, col, nm)

fig.update_layout(width=W, height=H, margin=dict(l=0, r=0, t=0, b=0, pad=0, autoexpand=False),
                  paper_bgcolor="white", plot_bgcolor="white", showlegend=False,
                  shapes=shapes, annotations=annotations,
                  font=dict(family=FONT, size=15, color="#222"))

PIN = ("document.body.style.margin='0';document.body.style.overflow='hidden';"
       "var gd=document.getElementById('{plot_id}');gd.style.position='absolute';"
       "gd.style.left='0px';gd.style.top='0px';")
fig.write_html("out.html", post_script=PIN, config={"displayModeBar": False})
